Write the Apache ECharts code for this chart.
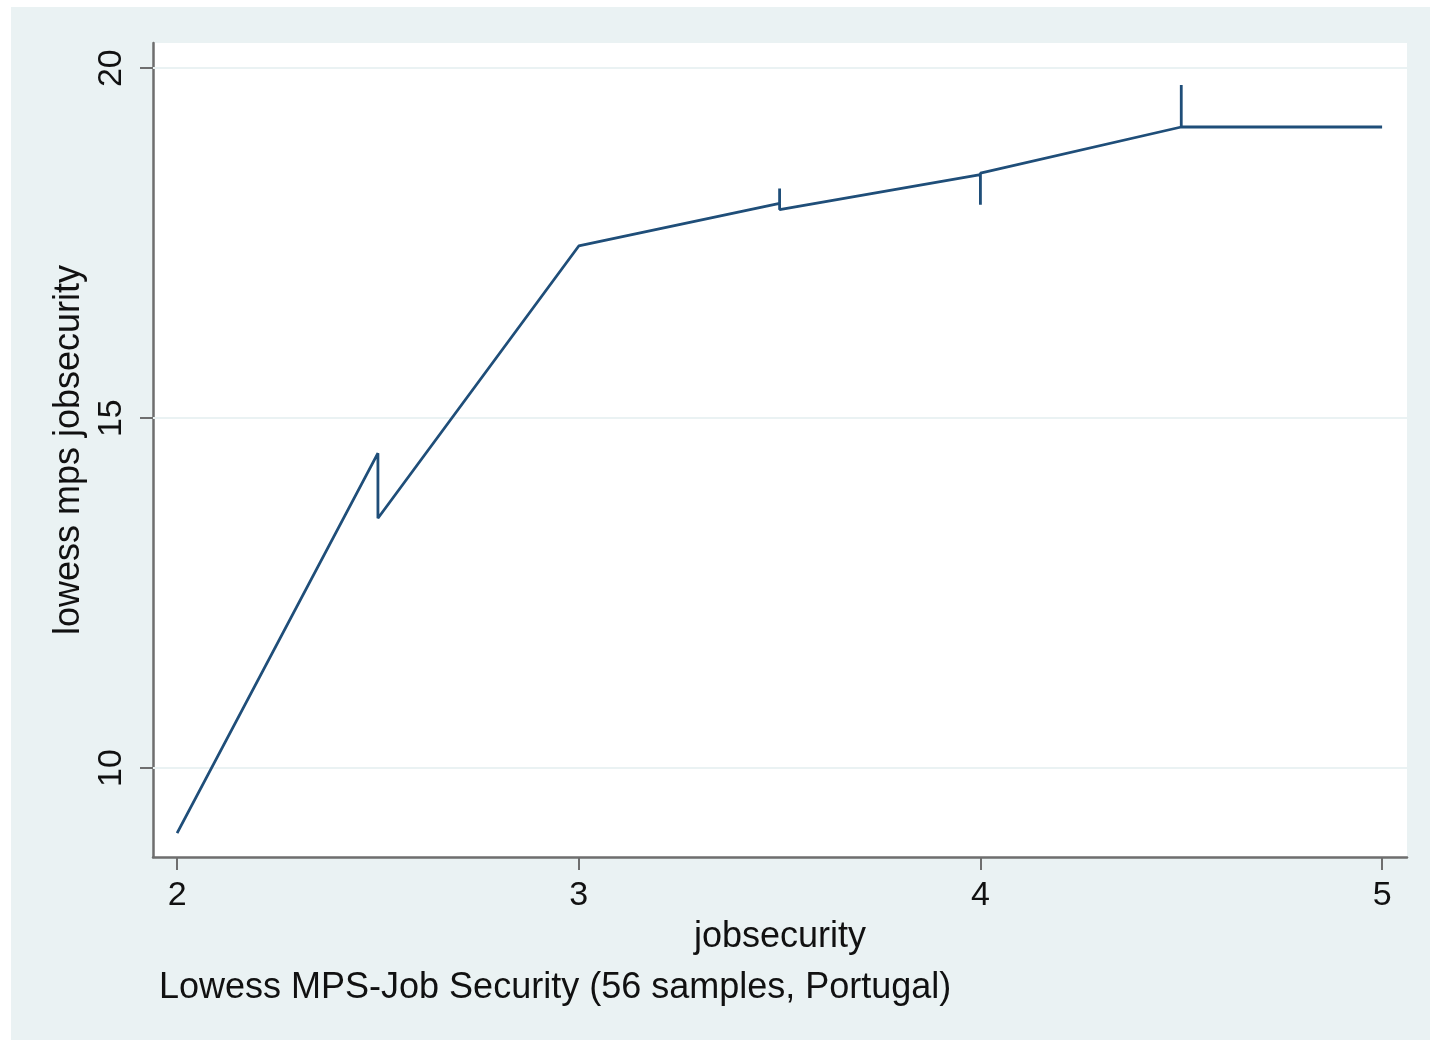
<!DOCTYPE html>
<html>
<head>
<meta charset="utf-8">
<script src="https://cdn.jsdelivr.net/npm/echarts@6/dist/echarts.min.js"></script>
<style>
  html, body { margin: 0; padding: 0; background: #ffffff; }
  #chart { position: absolute; left: 11px; top: 7px; width: 1419px; height: 1033px; }
</style>
</head>
<body>
<div id="chart"></div>
<script>
// lowess fit, points in plotting order (ties at the same x give the small spikes)
const jobsecurity = [2, 2.5, 2.5, 3, 3.5, 3.5, 3.5, 4, 4, 4, 4.5, 4.5, 4.5, 5];
const lowessMps = [9.07, 14.5, 13.57, 17.46, 18.07, 18.28, 17.98, 18.48, 18.05, 18.5, 19.16, 19.76, 19.16, 19.16];

const xTicks = [2, 3, 4, 5];
const yTicks = [10, 15, 20];

const font = "'Liberation Sans', Arial, Helvetica, sans-serif";
const axisGray = "#6e6e6e";

const chart = echarts.init(document.getElementById("chart"), null, { renderer: "canvas" });

chart.setOption({
  backgroundColor: "#eaf2f3",
  animation: false,
  textStyle: { fontFamily: font },
  title: {
    text: "Lowess MPS-Job Security (56 samples, Portugal)",
    left: 143,
    top: 958,
    textStyle: { fontFamily: font, fontSize: 36, fontWeight: "normal", color: "#111" },
  },
  grid: {
    left: 142, right: 23, top: 36, bottom: 183,
    show: true, backgroundColor: "#ffffff", borderWidth: 0,
  },
  xAxis: {
    type: "value",
    min: 1.94,
    max: 5.062,
    name: "jobsecurity",
    nameLocation: "middle",
    nameGap: 62,
    nameTextStyle: { fontFamily: font, fontSize: 36, color: "#111" },
    axisLine: { onZero: false, lineStyle: { color: axisGray, width: 2.5 } },
    axisTick: { show: true, length: 13, customValues: xTicks, lineStyle: { color: axisGray, width: 2 } },
    axisLabel: { customValues: xTicks, margin: 22, fontSize: 34, color: "#111", fontFamily: font },
    splitLine: { show: false },
  },
  yAxis: {
    type: "value",
    min: 8.73,
    max: 20.36,
    name: "lowess mps jobsecurity",
    nameLocation: "middle",
    nameGap: 63,
    nameTextStyle: { fontFamily: font, fontSize: 36, color: "#111" },
    axisLine: { show: true, onZero: false, lineStyle: { color: axisGray, width: 2.5 } },
    axisTick: { show: true, length: 13, customValues: yTicks, lineStyle: { color: axisGray, width: 2 } },
    axisLabel: { customValues: yTicks, rotate: 90, margin: 24, fontSize: 34, color: "#111", fontFamily: font },
    splitLine: { show: false },
  },
  series: [
    {
      type: "line",
      data: jobsecurity.map((x, i) => [x, lowessMps[i]]),
      symbol: "none",
      lineStyle: { color: "#1f4e79", width: 2.8 },
      markLine: {
        silent: true,
        symbol: "none",
        label: { show: false },
        lineStyle: { color: "#eaf2f3", width: 2, type: "solid" },
        data: yTicks.map((v) => ({ yAxis: v })),
        z: 1,
      },
    },
  ],
});
</script>
</body>
</html>
